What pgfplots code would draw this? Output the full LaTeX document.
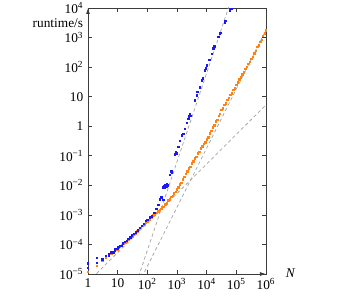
\documentclass[border=0pt]{standalone}
\usepackage{fontspec}
\setmainfont{Liberation Serif}
\usepackage{pgfplots}
\usepackage{pgfplotstable}
\pgfplotsset{compat=1.18}
\usetikzlibrary{arrows.meta}
\definecolor{myblue}{RGB}{25,25,245}
\definecolor{myorange}{RGB}{255,130,20}
\definecolor{dashgray}{RGB}{165,165,165}
\definecolor{axgray}{RGB}{60,60,60}

\pgfplotstableread{
N T
1 2.3e-5
1 1.6e-5
2 3.6e-5
2 2.4e-5
3 3.1e-5
4 4.1e-5
5 4.3e-5
5 4.9e-5
6 5.4e-5
7 5.5e-5
8 6.0e-5
8 6.8e-5
9 7.2e-5
10 7.9e-5
10 7.0e-5
11 8.4e-5
12 9.0e-5
13 8.9e-5
15 1.08e-4
17 1.22e-4
20 1.33e-4
23 1.58e-4
27 1.72e-4
30 2.05e-4
35 2.3e-4
40 2.6e-4
48 3.05e-4
55 3.7e-4
65 4.3e-4
75 5.1e-4
90 6.2e-4
100 6.7e-4
120 8.2e-4
140 9.0e-4
170 1.2e-3
200 1.6e-3
230 2.2e-3
265 3.4e-3
300 4.0e-3
340 3.3e-3
340 8.6e-3
355 9.6e-3
370 8.2e-3
385 1.0e-2
400 9.1e-3
420 1.05e-2
440 9.4e-3
460 1.1e-2
480 9.9e-3
575 2.24e-2
631 3.02e-2
661 2.63e-2
851 0.112
912 0.132
977 0.120
1096 0.200
1259 0.316
1429 0.501
1622 0.562
1862 0.832
2138 1.318
2399 1.820
2512 2.138
2692 2.630
2754 2.291
3981 7.586
4571 11.22
4786 14.45
5754 20.89
6761 35.48
7244 41.69
8710 77.62
9333 91.20
10000 114.8
12023 177.8
14622 288.4
16596 426.6
17783 501
24547 1047
27542 1349
28840 1445
40738 3311
42658 3715
60256 8318
66069 9333
69183 9550
}\bluedata

\pgfplotstableread{
N T
1 1.2e-5
2 1.9e-5
3 2.75e-5
4 3.55e-5
5 4.2e-5
5 4.6e-5
6 4.85e-5
7 5.4e-5
8 6.0e-5
8 6.5e-5
9 6.5e-5
10 7.1e-5
10 6.6e-5
11 7.7e-5
12 8.3e-5
12 8.9e-5
14 9.4e-5
16 1.05e-4
18 1.17e-4
20 1.29e-4
23 1.47e-4
27 1.69e-4
31 1.91e-4
35 2.14e-4
40 2.41e-4
46 2.77e-4
52 3.16e-4
60 3.61e-4
70 4.22e-4
80 4.82e-4
90 5.42e-4
100 6.03e-4
120 7.23e-4
140 8.43e-4
160 9.62e-4
180 1.06e-3
200 1.16e-3
230 1.31e-3
260 1.46e-3
290 1.63e-3
316.2 1.862e-3
354.8 1.905e-3
398.1 2.291e-3
446.7 2.512e-3
501.2 3.090e-3
562.3 3.388e-3
631.0 4.074e-3
707.9 4.365e-3
794.3 5.370e-3
891.3 6.166e-3
1000 7.413e-3
1122 8.511e-3
1259 1.072e-2
1413 1.230e-2
1585 1.622e-2
1778 1.950e-2
1995 2.512e-2
2239 2.951e-2
2512 3.802e-2
2818 4.266e-2
3162 5.495e-2
3548 6.607e-2
3981 8.318e-2
4467 9.333e-2
5012 0.1202
5623 0.1380
6310 0.1778
7079 0.2089
7943 0.2570
8913 0.2884
10000 0.3631
11220 0.4266
12590 0.5754
14130 0.7079
15850 0.9333
17780 1.096
19950 1.445
22390 1.660
25120 2.239
28180 2.692
31620 3.548
35480 4.074
39810 5.248
44670 5.888
50120 7.762
56230 9.120
63100 11.48
70790 13.18
79430 16.98
89130 19.05
100000 25.12
112200 30.20
125900 38.90
141300 44.67
158500 57.54
177800 66.07
199500 87.10
223900 102.3
251200 131.8
281800 151.4
316200 195.0
354800 223.9
398100 295.1
446700 363.1
501200 478.6
562300 549.5
631000 724.4
707900 851.1
794300 1148
891300 1413
1000000 1778
}\orangedata

\begin{document}
\begin{tikzpicture}
\useasboundingbox (0,0) rectangle (266.25pt,222pt);
\begin{axis}[
  name=ax,
  at={(66pt,16.5pt)}, anchor=south west,
  scale only axis, width=133.5pt, height=199.5pt,
  xmode=log, ymode=log,
  xmin=1, xmax=1e6, ymin=1e-5, ymax=1e4,
  xtick={1,10,100,1000,10000,100000,1000000},
  xticklabels={1,10,10\textsuperscript{2},10\textsuperscript{3},10\textsuperscript{4},10\textsuperscript{5},10\textsuperscript{6}},
  ytick={1e-5,1e-4,1e-3,1e-2,1e-1,1,10,100,1000,10000},
  yticklabels={10\textsuperscript{−5},10\textsuperscript{−4},10\textsuperscript{−3},10\textsuperscript{−2},10\textsuperscript{−1},1,10,10\textsuperscript{2},10\textsuperscript{3},10\textsuperscript{4}},
  xminorticks=false, yminorticks=false,
  tick align=inside, major tick length=3pt,
  axis line style={axgray, line width=0.6pt},
  tick style={axgray, line width=0.5pt},
  tick label style={font=\fontsize{10}{12}\selectfont},
  clip=true,
]
\addplot[dashgray, line width=0.55pt, dash pattern=on 2.5pt off 2pt] coordinates {(1,5.3e-6) (1e6,5.3)};
\addplot[dashgray, line width=0.55pt, dash pattern=on 2.5pt off 2pt] coordinates {(10,1.82e-7) (1e6,1820)};
\addplot[dashgray, line width=0.55pt, dash pattern=on 2.5pt off 2pt] coordinates {(10,6.28e-8) (1e5,6.28e4)};
\addplot[myorange, only marks, mark=square*, mark size=0.55pt, mark options={draw=none, fill=myorange}] table[x=N, y=T] {\orangedata};
\addplot[myblue, only marks, mark=square*, mark size=0.55pt, mark options={draw=none, fill=myblue}] table[x=N, y=T] {\bluedata};
\end{axis}
\draw[axgray, line width=0.6pt, -{Latex[length=4.5pt,width=3pt]}] ([yshift=-8pt]ax.north west) -- (ax.north west);
\draw[axgray, line width=0.6pt, -{Latex[length=4.5pt,width=3pt]}] ([xshift=-8pt]ax.south east) -- (ax.south east);
\node[anchor=east, inner sep=0pt] at (62.5pt,204.5pt) {runtime/s};
\node[inner sep=0pt] at (217.9pt,17.25pt) {\textit{N}};
\end{tikzpicture}
\end{document}
